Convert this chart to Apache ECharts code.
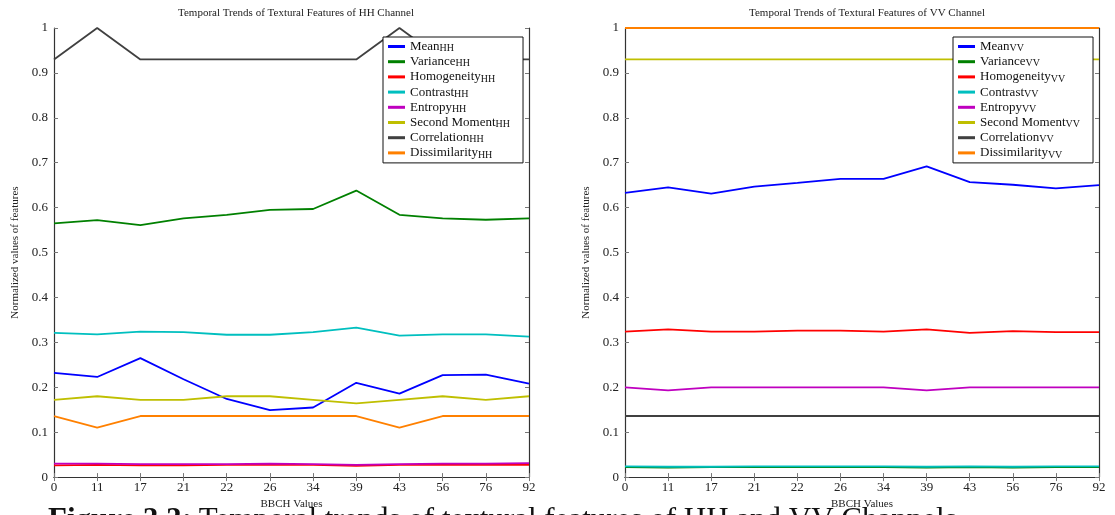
<!DOCTYPE html>
<html>
<head>
<meta charset="utf-8">
<script src="https://cdn.jsdelivr.net/npm/echarts@6/dist/echarts.min.js"></script>
<style>
  html, body { margin: 0; padding: 0; background: #fff; }
  #chart { width: 1115px; height: 515px; }
</style>
</head>
<body>
<div id="chart"></div>
<script>
// BBCH growth stages on the x axis
const bbch = ['0', '11', '17', '21', '22', '26', '34', '39', '43', '56', '76', '92'];

// Feature names (subscript appended per channel)
const features = ['Mean', 'Variance', 'Homogeneity', 'Contrast', 'Entropy', 'Second Moment', 'Correlation', 'Dissimilarity'];
const featureColors = ['#0000ff', '#008000', '#ff0000', '#00bfbf', '#bf00bf', '#bfbf00', '#404040', '#ff8000'];

// HH channel, normalized
const meanHH          = [0.232, 0.223, 0.265, 0.218, 0.174, 0.149, 0.155, 0.210, 0.186, 0.227, 0.228, 0.208];
const varianceHH      = [0.565, 0.572, 0.561, 0.576, 0.584, 0.595, 0.597, 0.638, 0.584, 0.576, 0.573, 0.576];
const homogeneityHH   = [0.026, 0.027, 0.026, 0.026, 0.027, 0.027, 0.027, 0.025, 0.027, 0.027, 0.027, 0.027];
const contrastHH      = [0.321, 0.318, 0.324, 0.323, 0.317, 0.317, 0.323, 0.333, 0.315, 0.318, 0.318, 0.313];
const entropyHH       = [0.030, 0.030, 0.029, 0.029, 0.029, 0.030, 0.029, 0.027, 0.029, 0.030, 0.030, 0.031];
const secondMomentHH  = [0.172, 0.180, 0.172, 0.172, 0.180, 0.180, 0.172, 0.164, 0.172, 0.180, 0.172, 0.180];
const correlationHH   = [0.930, 1.000, 0.930, 0.930, 0.930, 0.930, 0.930, 0.930, 1.000, 0.930, 0.930, 0.930];
const dissimilarityHH = [0.136, 0.110, 0.136, 0.136, 0.136, 0.136, 0.136, 0.136, 0.110, 0.136, 0.136, 0.136];

// VV channel, normalized
const meanVV          = [0.633, 0.645, 0.631, 0.647, 0.655, 0.664, 0.664, 0.692, 0.657, 0.651, 0.643, 0.650];
const varianceVV      = [0.022, 0.021, 0.022, 0.022, 0.022, 0.022, 0.022, 0.021, 0.022, 0.021, 0.022, 0.022];
const homogeneityVV   = [0.324, 0.329, 0.324, 0.324, 0.326, 0.326, 0.324, 0.329, 0.321, 0.325, 0.323, 0.323];
const contrastVV      = [0.024, 0.023, 0.023, 0.024, 0.024, 0.024, 0.024, 0.023, 0.024, 0.023, 0.024, 0.024];
const entropyVV       = [0.200, 0.193, 0.200, 0.200, 0.200, 0.200, 0.200, 0.193, 0.200, 0.200, 0.200, 0.200];
const secondMomentVV  = [0.930, 0.930, 0.930, 0.930, 0.930, 0.930, 0.930, 0.930, 0.930, 0.930, 0.930, 0.930];
const correlationVV   = [0.136, 0.136, 0.136, 0.136, 0.136, 0.136, 0.136, 0.136, 0.136, 0.136, 0.136, 0.136];
const dissimilarityVV = [1.000, 1.000, 1.000, 1.000, 1.000, 1.000, 1.000, 1.000, 1.000, 1.000, 1.000, 1.000];

const hhData = [meanHH, varianceHH, homogeneityHH, contrastHH, entropyHH, secondMomentHH, correlationHH, dissimilarityHH];
const vvData = [meanVV, varianceVV, homogeneityVV, contrastVV, entropyVV, secondMomentVV, correlationVV, dissimilarityVV];

const titles = ['Temporal Trends of Textural Features of HH Channel', 'Temporal Trends of Textural Features of VV Channel'];
const yName = 'Normalized values of features';
const xName = 'BBCH Values';
const captionLead = 'Figure 3.3:';
const captionText = 'Temporal trends of textural features of HH and VV Channels';

const SERIF = '"Liberation Serif", "DejaVu Serif", serif';
const AXIS = '#333';

const chart = echarts.init(document.getElementById('chart'), null, { renderer: 'canvas' });

const grids = [
  { left: 54, right: 586, top: 28, bottom: 37 },
  { left: 625, right: 16, top: 28, bottom: 37 }
];

const xAxes = [], yAxes = [], series = [], legends = [];
const channels = ['HH', 'VV'];

channels.forEach((ch, g) => {
  // bottom axis with labels
  xAxes.push({
    type: 'category', gridIndex: g, data: bbch, boundaryGap: false, position: 'bottom',
    name: xName, nameLocation: 'middle', nameGap: 20,
    nameTextStyle: { fontFamily: SERIF, fontSize: 11, color: '#222' },
    axisLine: { lineStyle: { color: AXIS, width: 1.2 } },
    axisTick: { inside: true, length: 4, lineStyle: { color: '#777' } },
    axisLabel: { fontFamily: SERIF, fontSize: 13, color: '#222', margin: 4 },
    splitLine: { show: false }
  });
  // mirrored top axis (ticks only)
  xAxes.push({
    type: 'category', gridIndex: g, data: bbch, boundaryGap: false, position: 'top',
    axisLine: { lineStyle: { color: AXIS, width: 1.2 } },
    axisTick: { inside: true, length: 4, lineStyle: { color: '#777' } },
    axisLabel: { show: false }, splitLine: { show: false }
  });
  yAxes.push({
    type: 'value', gridIndex: g, min: 0, max: 1, interval: 0.1, position: 'left',
    name: yName, nameLocation: 'middle', nameGap: 33, nameRotate: 90,
    nameTextStyle: { fontFamily: SERIF, fontSize: 11, color: '#222' },
    axisLine: { show: true, lineStyle: { color: AXIS, width: 1.2 } },
    axisTick: { show: true, inside: true, length: 4, lineStyle: { color: '#777' } },
    axisLabel: { fontFamily: SERIF, fontSize: 13, color: '#222', margin: 6 },
    splitLine: { show: false }
  });
  // mirrored right axis (ticks only)
  yAxes.push({
    type: 'value', gridIndex: g, min: 0, max: 1, interval: 0.1, position: 'right',
    axisLine: { show: true, lineStyle: { color: AXIS, width: 1.2 } },
    axisTick: { show: true, inside: true, length: 4, lineStyle: { color: '#777' } },
    axisLabel: { show: false }, splitLine: { show: false }
  });

  const data = g === 0 ? hhData : vvData;
  const names = [];
  features.forEach((f, i) => {
    const name = f + '_' + ch;
    names.push(name);
    series.push({
      name: name, type: 'line', xAxisIndex: g * 2, yAxisIndex: g * 2,
      data: data[i], showSymbol: false, symbol: 'none',
      lineStyle: { color: featureColors[i], width: 1.8 },
      itemStyle: { color: featureColors[i] },
      z: 2 + i
    });
  });

  legends.push({
    data: names,
    orient: 'vertical',
    left: g === 0 ? 383 : 953,
    top: 37,
    padding: [3, 13, 3, 5],
    itemGap: 1.7,
    itemWidth: 17,
    itemHeight: 3,
    icon: 'rect',
    backgroundColor: '#fff',
    borderColor: '#111',
    borderWidth: 1,
    borderRadius: 0,
    selectedMode: false,
    z: 20,
    textStyle: {
      fontFamily: SERIF, color: '#111',
      rich: {
        m: { fontFamily: SERIF, fontSize: 13, color: '#111', lineHeight: 14 },
        s: { fontFamily: SERIF, fontSize: 10, color: '#111', lineHeight: 5, verticalAlign: 'bottom' }
      }
    },
    formatter: function (n) {
      const parts = n.split('_');
      return '{m|' + parts[0] + '}{s|' + parts[1] + '}';
    }
  });
});

const option = {
  animation: false,
  backgroundColor: '#fff',
  title: [
    { text: titles[0], left: 291, top: 3, textAlign: 'center',
      textStyle: { fontFamily: SERIF, fontSize: 11, fontWeight: 'normal', color: '#222' } },
    { text: titles[1], left: 862, top: 3, textAlign: 'center',
      textStyle: { fontFamily: SERIF, fontSize: 11, fontWeight: 'normal', color: '#222' } }
  ],
  grid: grids,
  xAxis: xAxes,
  yAxis: yAxes,
  legend: legends,
  series: series,
  graphic: [
    // figure caption below the panels (runs off the bottom edge)
    { type: 'text', left: 48, top: 505, silent: true, z: -1,
      style: {
        text: '{b|' + captionLead + '}  {n|' + captionText + '}',
        rich: {
          b: { fontFamily: SERIF, fontSize: 31, fontWeight: 'bold', fill: '#111' },
          n: { fontFamily: SERIF, fontSize: 31, fill: '#111' }
        }
      } }
  ]
};

chart.setOption(option);
</script>
</body>
</html>
